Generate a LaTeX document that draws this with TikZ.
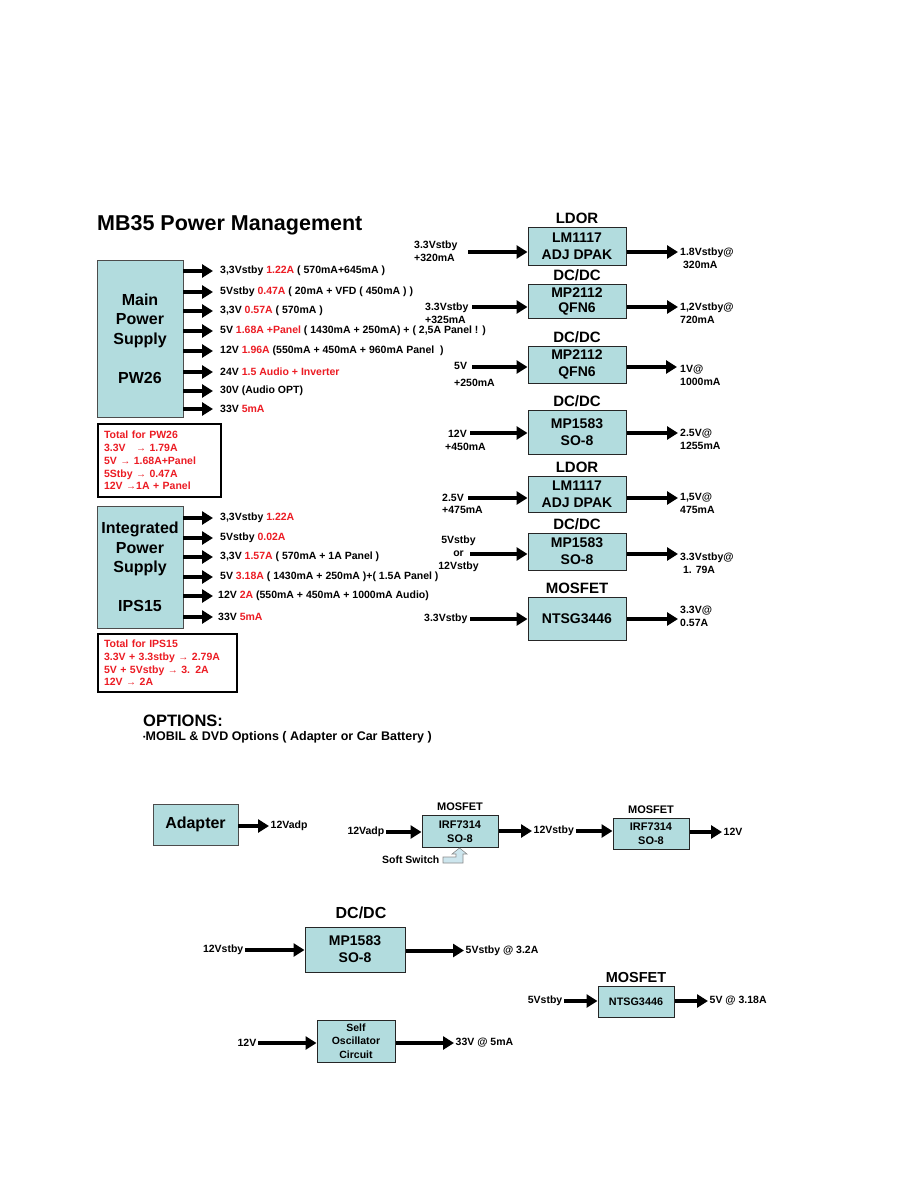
\documentclass[tikz,border=0pt]{standalone}
\usepackage{fontspec}
\setmainfont{Liberation Sans}
\usetikzlibrary{arrows.meta, positioning}

\definecolor{boxfill}{RGB}{178,220,222}
\definecolor{txtred}{RGB}{236,28,36}
\definecolor{switchfill}{RGB}{205,230,238}
\newcommand{\rd}[1]{\textcolor{txtred}{#1}}
\newcommand{\ra}{{\fontsize{10}{10}\selectfont\mdseries →}}
\newcommand{\fsmall}{\fontsize{10.5}{12.75}\selectfont\bfseries}
\newcommand{\fmini}{\fontsize{11}{14.5}\selectfont\bfseries}
\newcommand{\fchip}{\fontsize{14}{17}\selectfont\bfseries}
\newcommand{\ftag}{\fontsize{15}{17}\selectfont\bfseries}
\newcommand{\fpsu}{\fontsize{16}{19.5}\selectfont\bfseries}
\newcommand{\ftitle}{\fontsize{21.5}{24}\selectfont\bfseries}

\begin{document}
\begin{tikzpicture}[x=1pt, y=-1pt,
  every node/.style={font=\fsmall},
  psu/.style={rectangle, draw=black!70, line width=0.8pt, fill=boxfill, align=center, font=\fpsu, minimum width=86pt},
  chip/.style={rectangle, draw=black!85, line width=1pt, fill=boxfill, align=center, font=\fchip, minimum width=98pt, inner sep=0pt},
  tag/.style={font=\ftag, inner sep=0pt, text height=10.7pt, text depth=0pt},
  tagsm/.style={font=\fmini, inner sep=0pt, text height=7.9pt, text depth=0pt},
  lbl/.style={font=\fsmall, inner sep=1.5pt, align=left},
  mso/.style={lbl, anchor=west, inner xsep=7pt},
  total/.style={rectangle, draw=black, line width=2pt, align=left, text=txtred, anchor=north west, inner xsep=6pt, inner ysep=0pt},
  arrow/.style={line width=4pt, -{Triangle[length=11pt, width=13pt]}}
]
\fill[white] (0,0) rectangle (918,1188);
\useasboundingbox (0,0) rectangle (918,1188);

% Title
\node[anchor=base west, inner sep=0pt, font=\ftitle] (title) at (97,230) {MB35 Power Management};

% Main power supply
\node[psu, minimum height=157pt] (mainps) at (140,338.5) {Main\\Power\\Supply\\[19.5pt]PW26};
\node[mso] (ms1) at (213,271) {3,3Vstby \rd{1.22A} ( 570mA+645mA )};
\node[mso] (ms2) at (213,292) {5Vstby \rd{0.47A} ( 20mA + VFD ( 450mA ) )};
\node[mso] (ms3) at (213,311) {3,3V \rd{0.57A} ( 570mA )};
\node[mso] (ms4) at (213,331) {5V \rd{1.68A +Panel} ( 1430mA + 250mA) + ( 2,5A Panel ! )};
\node[mso] (ms5) at (213,351) {12V \rd{1.96A} (550mA + 450mA + 960mA Panel\ \ )};
\node[mso] (ms6) at (213,372) {24V \rd{1.5 Audio + Inverter}};
\node[mso] (ms7) at (213,391) {30V (Audio OPT)};
\node[mso] (ms8) at (213,409) {33V \rd{5mA}};
\foreach \i in {1,...,8}
  \draw[arrow] (mainps.east |- ms\i.west) -- (ms\i.west);

\node[total, minimum width=123pt, minimum height=73pt, text width=111pt] (totpw) at (97,423)
  {Total for PW26\\3.3V\ \ \ \ra\ 1.79A\\5V\ \ra\ 1.68A+Panel\\5Stby\ \ra\ 0.47A\\12V\ \ra1A + Panel};

% Integrated power supply
\node[psu, minimum height=122pt] (ips) at (140,567) {Integrated\\Power\\Supply\\[19.5pt]IPS15};
\node[mso] (is1) at (213,518) {3,3Vstby \rd{1.22A}};
\node[mso] (is2) at (213,538) {5Vstby \rd{0.02A}};
\node[mso] (is3) at (213,557) {3,3V \rd{1.57A} ( 570mA + 1A Panel )};
\node[mso] (is4) at (213,577) {5V \rd{3.18A} ( 1430mA + 250mA )+( 1.5A Panel )};
\node[mso, inner xsep=5pt] (is5) at (213,596) {12V \rd{2A} (550mA + 450mA + 1000mA Audio)};
\node[mso, inner xsep=5pt] (is6) at (213,617) {33V \rd{5mA}};
\foreach \i in {1,...,6}
  \draw[arrow] (ips.east |- is\i.west) -- (is\i.west);

\node[total, minimum width=139pt, minimum height=58pt, text width=127pt] (totips) at (97,633)
  {Total for IPS15\\3.3V + 3.3stby \ra\ 2.79A\\5V + 5Vstby \ra\ 3. 2A\\12V \ra\ 2A};

% Regulators
\node[chip, minimum height=38pt] (ldo1) at (577,246) {LM1117\\ADJ DPAK};
\node[tag, above=2.5pt of ldo1] (tg1) {LDOR};
\node[chip, minimum height=34pt] (buck1) at (577,301) {MP2112\\[-2pt]QFN6};
\node[tag, above=2.5pt of buck1] (tg2) {DC/DC};
\node[chip, minimum height=37pt] (buck2) at (577,364.5) {MP2112\\QFN6};
\node[tag, above=2.5pt of buck2] (tg3) {DC/DC};
\node[chip, minimum height=44pt] (buck3) at (577,432) {MP1583\\SO-8};
\node[tag, above=2.5pt of buck3] (tg4) {DC/DC};
\node[chip, minimum height=36pt] (ldo2) at (577,494) {LM1117\\ADJ DPAK};
\node[tag, above=2.5pt of ldo2] (tg5) {LDOR};
\node[chip, minimum height=37pt] (buck4) at (577,551.5) {MP1583\\SO-8};
\node[tag, above=2.5pt of buck4] (tg6) {DC/DC};
\node[chip, minimum height=43pt] (fet1) at (577,618.5) {NTSG3446};
\node[tag, above=2.5pt of fet1] (tg7) {MOSFET};

\coordinate (in1) at (468,252);   \coordinate (out1) at (678,252);
\coordinate (in2) at (472,307);   \coordinate (out2) at (678,307);
\coordinate (in3) at (472,367);   \coordinate (out3) at (677,367);
\coordinate (in4) at (470,433);   \coordinate (out4) at (678,433);
\coordinate (in5) at (468,498);   \coordinate (out5) at (678,498);
\coordinate (in6) at (470,554);   \coordinate (out6) at (678,554);
\coordinate (in7) at (470,619);   \coordinate (out7) at (678,619);
\foreach \blk/\i in {ldo1/1, buck1/2, buck2/3, buck3/4, ldo2/5, buck4/6, fet1/7} {
  \draw[arrow] (in\i) -- (in\i -| \blk.west);
  \draw[arrow] (\blk.east |- out\i) -- (out\i);
}

\node[lbl, anchor=west] (inl1) at (412.5,251) {3.3Vstby\\+320mA};
\node[lbl, anchor=west] (inl2) at (423.5,313.5) {3.3Vstby\\+325mA};
\node[lbl, anchor=west] (inl3) at (452.5,374.5) {5V\\[4pt]+250mA};
\node[lbl, anchor=west] (inl4) at (443.5,440.5) {\ 12V\\+450mA};
\node[lbl, anchor=west] (inl5) at (440.5,504) {2.5V\\+475mA};
\node[lbl, align=center] (inl6) at (458.5,554) {5Vstby\\or\\12Vstby};
\node[lbl, anchor=west] (inl7) at (422.5,619) {3.3Vstby};

\node[lbl, anchor=west] (outl1) at (678.5,258) {1.8Vstby@\\\ 320mA};
\node[lbl, anchor=west] (outl2) at (678.5,313.5) {1,2Vstby@\\720mA};
\node[lbl, anchor=west] (outl3) at (678.5,375.5) {1V@\\1000mA};
\node[lbl, anchor=west] (outl4) at (678.5,439.5) {2.5V@\\1255mA};
\node[lbl, anchor=west] (outl5) at (678.5,503.5) {1,5V@\\475mA};
\node[lbl, anchor=west] (outl6) at (678.5,563) {3.3Vstby@\\\ 1. 79A};
\node[lbl, anchor=west] (outl7) at (678.5,616.5) {3.3V@\\0.57A};

% Options
\node[anchor=base west, inner sep=0pt, font=\fontsize{16.5}{19}\selectfont\bfseries] (opt) at (143,726) {OPTIONS:};
\node[anchor=base west, inner sep=0pt, font=\fontsize{12.5}{14}\selectfont\bfseries] (optline) at (143,740)
  {\raisebox{1pt}{\fontsize{7}{7}\selectfont •}MOBIL \& DVD Options ( Adapter or Car Battery )};

% Adapter chain
\node[psu, minimum width=85pt, minimum height=41pt] (adapter) at (195.5,824.5) {Adapter};
\node[lbl, anchor=west] (vadp) at (269,826) {12Vadp};
\draw[arrow] (adapter.east |- vadp.west) -- (vadp.west);

\node[chip, font=\fmini, minimum width=76pt, minimum height=32pt] (irf1) at (460,831.5) {IRF7314\\SO-8};
\node[tagsm, above=4pt of irf1] (tg8) {MOSFET};
\node[lbl, anchor=east] (vadpin) at (386,832) {12Vadp};
\draw[arrow] (vadpin.east) -- (vadpin.east -| irf1.west);
\node[lbl, anchor=west] (stby12) at (532,831) {12Vstby};
\draw[arrow] (irf1.east |- stby12.west) -- (stby12.west);
\node[chip, font=\fmini, minimum width=76pt, minimum height=31pt] (irf2) at (651,833.5) {IRF7314\\SO-8};
\node[tagsm, above=4pt of irf2] (tg9) {MOSFET};
\draw[arrow] (stby12.east) -- (stby12.east -| irf2.west);
\node[lbl, anchor=west] (v12) at (722,832) {12V};
\draw[arrow] (irf2.east |- v12.west) -- (v12.west);

\node[lbl, anchor=east] (softsw) at (441,860) {Soft Switch};
\draw[black!45, fill=switchfill, line width=0.6pt]
  (443,857) -- (456,857) -- (456,854) -- (452,854) -- (459.5,848) -- (467,854)
  -- (463,854) -- (463,863) -- (443,863) -- cycle;

% DC/DC 12Vstby -> 5Vstby
\node[chip, minimum width=100pt, minimum height=45pt] (buck5) at (355,949.5) {MP1583\\SO-8};
\node[tag, font=\fpsu, text height=11.5pt, above=8pt of buck5, xshift=6pt] (tg10) {DC/DC};
\node[lbl, anchor=east] (stby12b) at (245,950) {12Vstby};
\draw[arrow] (stby12b.east) -- (stby12b.east -| buck5.west);
\node[lbl, anchor=west] (v5stby) at (464,950.5) {5Vstby @ 3.2A};
\draw[arrow] (buck5.east |- v5stby.west) -- (v5stby.west);

% MOSFET 5Vstby -> 5V
\node[chip, font=\fontsize{10.8}{13}\selectfont\bfseries, minimum width=76pt, minimum height=31pt] (fet2) at (636,1001.5) {NTSG3446};
\node[tag, font=\fontsize{14.5}{17}\selectfont\bfseries, text height=10.4pt, above=3pt of fet2] (tg11) {MOSFET};
\node[lbl, anchor=east] (v5in) at (564,1001) {5Vstby};
\draw[arrow] (v5in.east) -- (v5in.east -| fet2.west);
\node[lbl, anchor=west] (v5out) at (708,1001) {5V @ 3.18A};
\draw[arrow] (fet2.east |- v5out.west) -- (v5out.west);

% Self oscillator
\node[chip, font=\fontsize{10.5}{13.5}\selectfont\bfseries, minimum width=78pt, minimum height=42pt] (osc) at (356,1041) {Self\\Oscillator\\Circuit};
\node[lbl, anchor=east] (v12in) at (258,1043) {12V};
\draw[arrow] (v12in.east) -- (v12in.east -| osc.west);
\node[lbl, anchor=west] (v33) at (454,1043) {33V @ 5mA};
\draw[arrow] (osc.east |- v33.west) -- (v33.west);

\end{tikzpicture}
\end{document}
